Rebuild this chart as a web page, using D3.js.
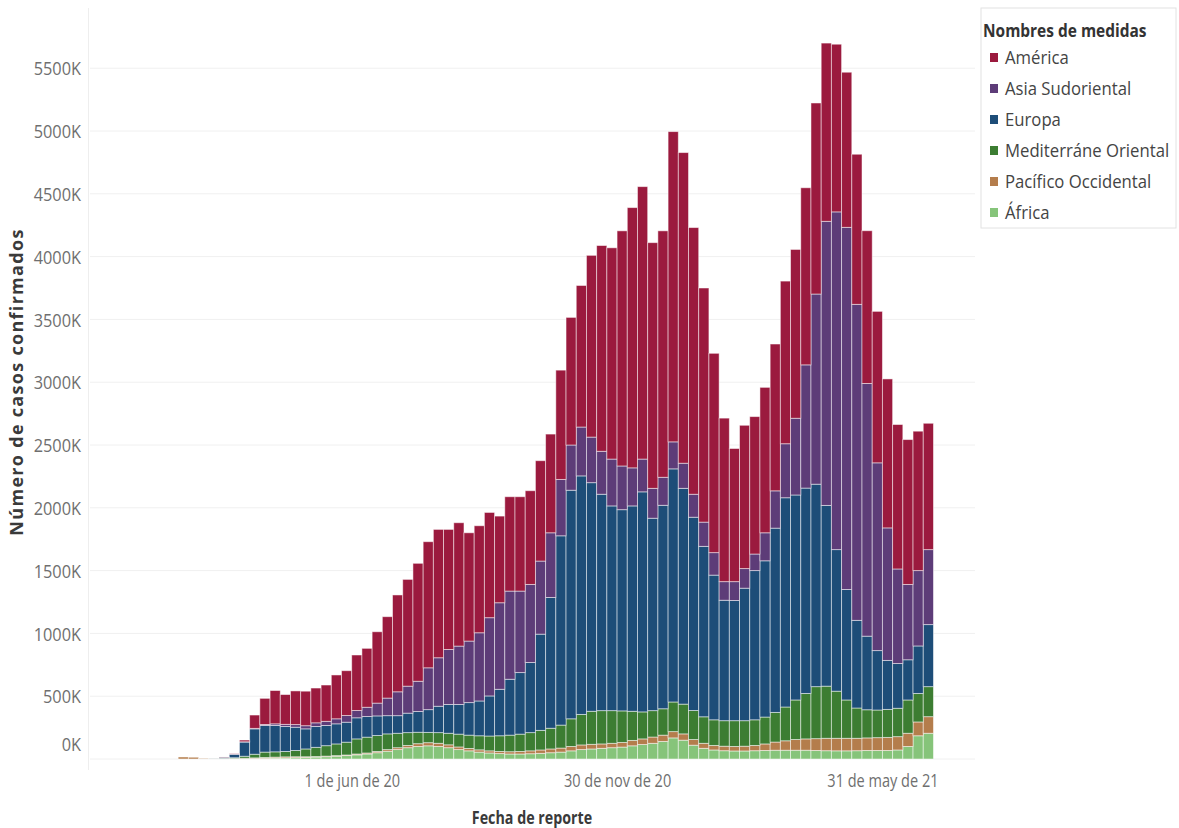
<!DOCTYPE html>
<html>
<head>
<meta charset="utf-8">
<script src="https://cdn.jsdelivr.net/npm/d3@7"></script>
<style>
  body { margin: 0; background: #fff; }
  text { font-family: "Open Sans", "Noto Sans", sans-serif; }
</style>
</head>
<body>
<div id="chart"></div>
<script>
// weekly report dates (week start) and confirmed cases per WHO region, in thousands
const weeks = [
  "2020-02-03","2020-02-10","2020-02-17","2020-02-24","2020-03-02","2020-03-09","2020-03-16","2020-03-23",
  "2020-03-30","2020-04-06","2020-04-13","2020-04-20","2020-04-27","2020-05-04","2020-05-11","2020-05-18",
  "2020-05-25","2020-06-01","2020-06-08","2020-06-15","2020-06-22","2020-06-29","2020-07-06","2020-07-13",
  "2020-07-20","2020-07-27","2020-08-03","2020-08-10","2020-08-17","2020-08-24","2020-08-31","2020-09-07",
  "2020-09-14","2020-09-21","2020-09-28","2020-10-05","2020-10-12","2020-10-19","2020-10-26","2020-11-02",
  "2020-11-09","2020-11-16","2020-11-23","2020-11-30","2020-12-07","2020-12-14","2020-12-21","2020-12-28",
  "2021-01-04","2021-01-11","2021-01-18","2021-01-25","2021-02-01","2021-02-08","2021-02-15","2021-02-22",
  "2021-03-01","2021-03-08","2021-03-15","2021-03-22","2021-03-29","2021-04-05","2021-04-12","2021-04-19",
  "2021-04-26","2021-05-03","2021-05-10","2021-05-17","2021-05-24","2021-05-31","2021-06-07","2021-06-14",
  "2021-06-21","2021-06-28"
];

const america = [
  0,0,0,0,2,3,14,106, 208,265,237,268,275,277,289,349,
  357,442,469,568,648,771,850,939, 1004,1022,956,982,862,852,838,690,
  751,751,746,799,786,870,1016,1127, 1447,1638,1682,1872,2072,2169,1956,1962,
  2470,2473,2123,1864,1587,1302,1060,1141, 1094,1158,1169,1295,1344,1410,1521,1419,
  1335,1235,1195,1216,1206,1186,1150,1153, 1110,1006
];
const asiaSudoriental = [
  0,0,0,0,0,1,2,4, 8,13,17,21,25,29,33,40,
  53,58,74,102,140,190,215,241, 333,386,438,465,490,543,623,689,
  702,649,622,582,515,449,360,389, 363,342,373,348,303,261,238,223,
  215,200,183,193,179,148,150,156, 132,223,297,430,611,981,1514,2262,
  2689,2883,2516,2012,1495,1055,753,600, 600,597
];
const europa = [
  0,0,0,1,8,28,113,202, 212,210,199,185,160,166,161,160,
  159,168,164,156,145,140,155,165, 181,210,229,236,259,277,319,370,
  445,490,558,766,1041,1507,1820,1899, 1820,1723,1630,1602,1635,1752,1532,1620,
  1856,1718,1539,1357,1152,959,957,1055, 1188,1244,1467,1666,1632,1635,1612,1439,
  1127,880,698,586,473,390,356,320, 378,494
];
const mediterraneo = [
  0,0,0,1,3,6,16,29, 43,42,43,50,62,73,83,93,
  102,120,126,127,125,115,102,91, 82,85,92,102,106,112,118,125,
  132,138,145,156,165,183,220,243, 263,265,260,251,232,215,210,210,
  236,237,231,211,204,203,205,203, 204,214,236,269,315,362,414,415,
  375,305,241,224,220,223,226,265, 227,239
];
const pacifico = [
  16,14,4,3,3,3,4,6, 7,8,9,8,6,5,5,5,
  5,7,8,10,13,15,18,22, 25,25,23,21,19,18,17,17,
  18,20,23,27,30,32,35,37, 37,35,35,37,43,45,50,50,
  50,50,45,40,36,36,36,38, 42,52,65,75,85,90,94,99,
  100,100,99,100,102,104,106,105, 110,132
];
const africa = [
  0,0,0,0,0,1,2,3, 5,7,8,10,12,15,18,22,
  27,33,40,50,62,75,90,100, 105,100,90,75,65,55,48,43,
  40,40,42,45,50,55,65,75, 80,85,90,95,105,115,125,140,
  168,150,110,85,72,66,64,64, 66,68,70,70,70,70,68,66,
  65,65,66,68,68,68,72,100, 185,205
];

const regions = ["América", "Asia Sudoriental", "Europa", "Mediterráne Oriental", "Pacífico Occidental", "África"];
const regionColors = ["#9b1a3e", "#5d3c78", "#1d4d78", "#3c7d32", "#b47d4c", "#86c47a"];
const regionValues = [america, asiaSudoriental, europa, mediterraneo, pacifico, africa];

const yTicks = d3.range(0, 5501, 500);
const xTickDates = ["2020-06-01", "2020-11-30", "2021-05-31"];
const xTickLabels = ["1 de jun de 20", "30 de nov de 20", "31 de may de 21"];

const parseDay = d3.timeParse("%Y-%m-%d");

const width = 1179;
const height = 828;
const squeeze = 0.86; // the original lettering is narrow and tall

const svg = d3.select("#chart")
  .append("svg")
  .attr("width", width)
  .attr("height", height)
  .style("background", "#fff");

// table for d3.stack
const table = weeks.map((w, i) => {
  const row = { date: parseDay(w) };
  regions.forEach((r, k) => { row[r] = regionValues[k][i]; });
  return row;
});

const stackOrder = regions.slice().reverse(); // África at the bottom
const stacked = d3.stack().keys(stackOrder)(table);

const x = d3.scaleTime()
  .domain([new Date(2019, 11, 4, 12), new Date(2021, 7, 2, 12)])
  .range([90, 975]);

const y = d3.scaleLinear()
  .domain([0, 5500])
  .range([759, 68.2]);

const color = d3.scaleOrdinal().domain(regions).range(regionColors);

// gridlines
svg.append("g")
  .selectAll("line")
  .data(yTicks)
  .join("line")
  .attr("x1", x.range()[0])
  .attr("x2", x.range()[1])
  .attr("y1", d => y(d))
  .attr("y2", d => y(d))
  .attr("stroke", "#f0f0f0")
  .attr("stroke-width", 1);

// left axis rule
svg.append("line")
  .attr("x1", 88.5).attr("x2", 88.5)
  .attr("y1", 8).attr("y2", 770)
  .attr("stroke", "#eeeeee");

// bars
const nextWeek = d => d3.timeDay.offset(d, 7);

svg.append("g")
  .selectAll("g")
  .data(stacked)
  .join("g")
  .attr("fill", s => color(s.key))
  .selectAll("rect")
  .data(s => s)
  .join("rect")
  .attr("x", d => x(d.data.date))
  .attr("width", d => x(nextWeek(d.data.date)) - x(d.data.date))
  .attr("y", d => y(d[1]))
  .attr("height", d => Math.max(0, y(d[0]) - y(d[1])))
  .attr("stroke", "#ffffff")
  .attr("stroke-opacity", 0.55)
  .attr("stroke-width", 0.9);

// y axis
const yAxis = d3.axisLeft(y)
  .tickValues(yTicks)
  .tickSize(0)
  .tickFormat(d => d + "K");

const gy = svg.append("g")
  .attr("transform", "translate(88,0)")
  .call(yAxis);

gy.select(".domain").remove();
gy.selectAll("text")
  .attr("fill", "#6f6f6f")
  .style("font-size", "19px")
  .attr("x", -7 / squeeze)
  .attr("transform", `scale(${squeeze},1)`)
  .attr("dy", d => d === 0 ? "-0.45em" : "0.35em");

// x axis
const xAxis = d3.axisBottom(x)
  .tickValues(xTickDates.map(parseDay))
  .tickSize(0)
  .tickPadding(16)
  .tickFormat((d, i) => xTickLabels[i]);

const gx = svg.append("g")
  .attr("transform", `translate(0,${y(0)})`)
  .call(xAxis);

gx.select(".domain").remove();
gx.selectAll("text")
  .attr("fill", "#6f6f6f")
  .style("font-size", "17.5px")
  .attr("transform", "scale(0.83,1)");

// axis titles
svg.append("text")
  .attr("transform", "translate(23,382) rotate(-90)")
  .attr("text-anchor", "middle")
  .attr("fill", "#3a3a3a")
  .style("font-size", "18px")
  .style("font-weight", "bold")
  .style("letter-spacing", "1.3px")
  .text("Número de casos confirmados");

svg.append("text")
  .attr("transform", "translate(532,824) scale(0.84,1)")
  .attr("text-anchor", "middle")
  .attr("fill", "#3a3a3a")
  .style("font-size", "17px")
  .style("font-weight", "bold")
  .text("Fecha de reporte");

// legend
const legend = svg.append("g").attr("transform", "translate(981,8)");

legend.append("rect")
  .attr("width", 195)
  .attr("height", 220)
  .attr("fill", "#fff")
  .attr("stroke", "#e2e2e2");

legend.append("text")
  .attr("transform", "translate(2,29) scale(0.86,1)")
  .attr("fill", "#333")
  .style("font-size", "18px")
  .style("font-weight", "bold")
  .text("Nombres de medidas");

const item = legend.selectAll(".item")
  .data(regions)
  .join("g")
  .attr("class", "item")
  .attr("transform", (d, i) => `translate(0,${49 + i * 31})`);

item.append("rect")
  .attr("x", 9)
  .attr("y", -4)
  .attr("width", 8)
  .attr("height", 9)
  .attr("fill", d => color(d));

item.append("text")
  .attr("transform", "translate(24,0) scale(0.88,1)")
  .attr("dy", "0.36em")
  .attr("fill", "#444")
  .style("font-size", "19px")
  .text(d => d);
</script>
</body>
</html>
